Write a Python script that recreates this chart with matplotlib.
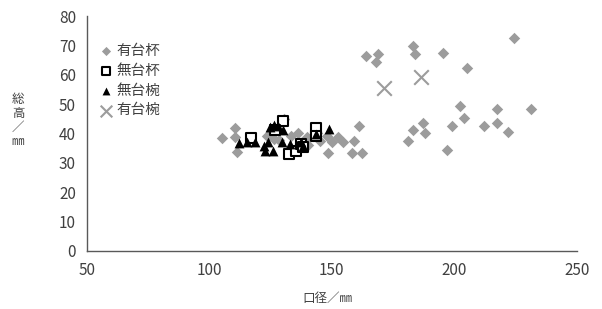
import matplotlib
matplotlib.use("Agg")
import matplotlib.pyplot as plt

plt.rcParams['font.family'] = ['Noto Sans CJK JP', 'DejaVu Sans']

# 有台杯 (gray diamonds)
cup_stand_x = [164.0, 168.9, 168.0, 183.1, 183.9, 195.4, 205.2, 202.3, 203.9, 199.0,
               161.2, 159.1, 162.4, 183.1, 187.2, 188.0, 181.1, 197.0, 224.3, 217.4,
               231.2, 212.0, 217.4, 221.8,
               105.2, 110.4, 110.4, 111.2, 128.4, 130.4, 139.8, 145.1, 137.4, 148.4,
               152.5, 154.5, 158.2, 133.3, 136.2, 142.1, 126.4, 144.0, 148.0, 149.9,
               123.5, 140.1]
cup_stand_y = [66.3, 67.0, 64.3, 69.7, 67.0, 67.3, 62.2, 49.3, 45.2, 42.5,
               42.5, 37.4, 33.5, 41.2, 43.5, 40.1, 37.4, 34.4, 72.4, 48.3,
               48.3, 42.5, 43.5, 40.5,
               38.4, 42.0, 38.8, 33.7, 37.8, 44.9, 38.8, 37.4, 35.4, 33.3,
               38.8, 37.0, 33.3, 39.0, 40.0, 39.0, 38.0, 40.0, 39.0, 37.0,
               39.0, 36.0]

# 無台杯 (open squares)
cup_flat_x = [116.9, 130.0, 126.7, 132.4, 135.3, 137.4, 143.4, 143.4, 138.2]
cup_flat_y = [38.4, 44.2, 41.2, 33.0, 34.0, 36.4, 41.8, 39.1, 35.4]

# 無台椀 (black triangles)
bowl_flat_x = [112.0, 115.3, 118.6, 122.3, 123.9, 122.7, 125.9, 124.7, 126.3,
               128.0, 130.0, 129.6, 132.9, 137.4, 138.2, 143.4, 148.7]
bowl_flat_y = [36.7, 37.0, 37.0, 35.7, 37.0, 34.0, 34.0, 42.2, 42.9,
               42.5, 41.2, 37.0, 36.4, 37.0, 35.7, 39.8, 41.5]

# 有台椀 (gray crosses)
bowl_stand_x = [171.3, 186.4]
bowl_stand_y = [55.4, 59.2]

fig = plt.figure(figsize=(6.02, 3.09), dpi=100)
ax = fig.add_axes([0.1445, 0.188, 0.8135, 0.76])

ax.scatter(cup_stand_x, cup_stand_y, marker='D', s=34, color='#9c9c9c',
           linewidths=0, label='有台杯', zorder=2)
ax.scatter(cup_flat_x, cup_flat_y, marker='s', s=55, facecolor='white',
           edgecolor='black', linewidths=1.5, label='無台杯', zorder=3)
ax.scatter(bowl_flat_x, bowl_flat_y, marker='^', s=50, color='black',
           linewidths=0, label='無台椀', zorder=4)
ax.scatter(bowl_stand_x, bowl_stand_y, marker='x', s=110, color='#9c9c9c',
           linewidths=1.5, label='有台椀', zorder=5)

ax.set_xlim(50, 250)
ax.set_ylim(0, 80)
ax.set_xticks(range(50, 251, 50))
ax.set_yticks(range(0, 81, 10))
ax.tick_params(length=0, labelsize=11, colors='#404040', pad=8)
for side in ['top', 'right']:
    ax.spines[side].set_visible(False)
for side in ['left', 'bottom']:
    ax.spines[side].set_color('#595959')
    ax.spines[side].set_linewidth(1.0)

ax.legend(loc='upper left', bbox_to_anchor=(0.0, 0.925), frameon=False,
          fontsize=10.5, handletextpad=0.1, labelspacing=0.4,
          borderaxespad=0.3, handlelength=1.2, labelcolor='#404040',
          markerscale=0.8)

fig.text(0.5435, 0.035, '口径／㎜', ha='center', va='center', fontsize=9,
         color='#404040')
fig.text(0.03, 0.61, '総\n高\n／\n㎜', ha='center', va='center', fontsize=9,
         color='#404040', linespacing=1.1)

fig.savefig('out.png', dpi=100)
